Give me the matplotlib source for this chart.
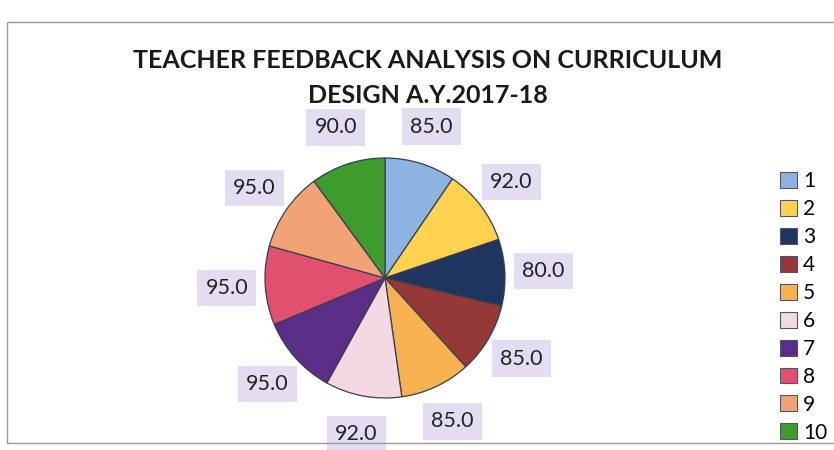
import matplotlib.pyplot as plt
from matplotlib.patches import Patch, Rectangle

# feedback scores per question
questions = ['1', '2', '3', '4', '5', '6', '7', '8', '9', '10']
scores = [85.0, 92.0, 80.0, 85.0, 85.0, 92.0, 95.0, 95.0, 95.0, 90.0]
colors = ['#8DB3E2', '#FFD24F', '#1F3560', '#953838', '#F8B252',
          '#F3D9E3', '#5A2D86', '#E0506F', '#F2A376', '#3E9B2E']

plt.rcParams['font.family'] = ['Lato', 'DejaVu Sans']

fig = plt.figure(figsize=(8.34, 4.5), dpi=100)

# thin grey frame like the original chart border
fig.patches.append(Rectangle((7 / 834, 7 / 450), 1.0, 421 / 450, transform=fig.transFigure,
                             fill=False, edgecolor='#9a9a9a', linewidth=1.0))

fig.text(0.513, 0.866, 'TEACHER FEEDBACK ANALYSIS ON CURRICULUM', ha='center', va='center',
         fontsize=18, fontweight='bold', color='#1a1a1a')
fig.text(0.513, 0.788, 'DESIGN A.Y.2017-18', ha='center', va='center',
         fontsize=18, fontweight='bold', color='#1a1a1a')

ax = fig.add_axes([(385 - 150) / 834, (172 - 150) / 450, 300 / 834, 300 / 450])
wedges, texts, autotexts = ax.pie(scores, colors=colors, startangle=90, counterclock=False,
                                  autopct='%1.1f', pctdistance=1.32,
                                  wedgeprops=dict(edgecolor='#3a3f4a', linewidth=0.9))
for t, v in zip(autotexts, scores):
    t.set_text(f'{v:.1f}')
    t.set_fontsize(15.5)
    t.set_color('#222222')
    t.set_bbox(dict(boxstyle='square,pad=0.38', facecolor='#E4DCF0', edgecolor='none'))

handles = [Patch(facecolor=c, edgecolor='#555566', linewidth=0.8) for c in colors]
fig.legend(handles, questions, loc='upper left', bbox_to_anchor=(772 / 834, 1 - 163 / 450),
           frameon=False, fontsize=15, handlelength=0.8, handleheight=0.8,
           handletextpad=0.3, labelspacing=0.38, borderaxespad=0)

fig.savefig('out.png', dpi=100)
